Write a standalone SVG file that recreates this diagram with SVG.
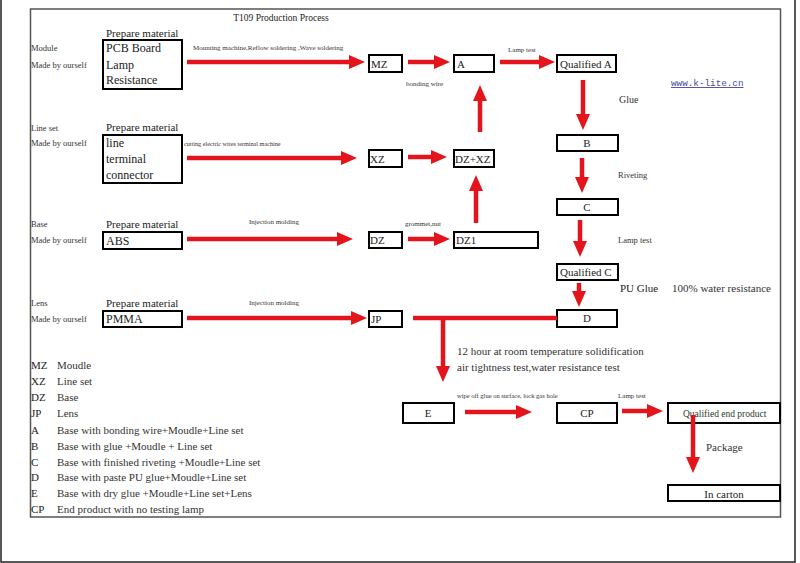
<svg xmlns="http://www.w3.org/2000/svg" width="800" height="563" viewBox="0 0 800 563">
<defs>
<marker id="ah" markerUnits="userSpaceOnUse" markerWidth="16" markerHeight="14" viewBox="0 0 16 14" refX="0" refY="7" orient="auto">
<path d="M0,0 L16,7 L0,14 z" fill="#e3141b"/>
</marker>
</defs>
<style>
text{font-family:"Liberation Serif","Times New Roman",serif;fill:#222}
.box{fill:#fff;stroke:#000;stroke-width:2}
.t{font-size:11px}
.tb{font-size:12px}
.s{font-size:8.5px;fill:#333}
.xs{font-size:7px;fill:#333}
.lg{font-size:11px;fill:#333}
.mid{text-anchor:middle}
.ar{stroke:#e3141b;stroke-width:4.5;fill:none;marker-end:url(#ah)}
.ln{stroke:#e3141b;stroke-width:4.5;fill:none}
</style>
<rect width="800" height="563" fill="#fff"/>
<path d="M1,0 V562 H795 V0" fill="none" stroke="#222" stroke-width="1.5"/>
<rect x="30.5" y="9" width="750" height="508" fill="none" stroke="#555" stroke-width="1.5"/>
<text x="281" y="21" class="mid" style="font-size:9.5px">T109 Production Process</text>

<g id="module">
<text x="31" y="51" class="s">Module</text>
<text x="31" y="68" class="s">Made by ourself</text>
<text x="106" y="37" class="t">Prepare material</text>
<rect x="103" y="40" width="79" height="49" class="box"/>
<text x="106" y="52" class="tb">PCB Board</text>
<text x="106" y="69" class="tb">Lamp</text>
<text x="106" y="84" class="tb">Resistance</text>
</g>
<g id="lineset">
<text x="31" y="131" class="s">Line set</text>
<text x="31" y="146" class="s">Made by ourself</text>
<text x="106" y="131" class="t">Prepare material</text>
<rect x="103" y="135" width="79" height="48" class="box"/>
<text x="106" y="147" class="tb">line</text>
<text x="106" y="163" class="tb">terminal</text>
<text x="106" y="179" class="tb">connector</text>
</g>
<g id="base">
<text x="31" y="227" class="s">Base</text>
<text x="31" y="243" class="s">Made by ourself</text>
<text x="106" y="228" class="t">Prepare material</text>
<rect x="103" y="232" width="79" height="17" class="box"/>
<text x="106" y="245" class="tb">ABS</text>
</g>
<g id="lens">
<text x="31" y="306" class="s">Lens</text>
<text x="31" y="322" class="s">Made by ourself</text>
<text x="106" y="307" class="t">Prepare material</text>
<rect x="103" y="311" width="79" height="16" class="box"/>
<text x="106" y="323" class="tb">PMMA</text>
</g>

<g id="mz"><rect x="369" y="55" width="33" height="17" class="box"/><text x="371" y="68" class="t">MZ</text></g>
<g id="a"><rect x="454" y="55" width="40" height="17" class="box"/><text x="457" y="68" class="t">A</text></g>
<g id="qa"><rect x="557" y="55" width="59" height="17" class="box"/><text x="560" y="68" class="t">Qualified A</text></g>
<g id="xz"><rect x="369" y="150" width="33" height="17" class="box"/><text x="370" y="163" class="t">XZ</text></g>
<g id="dzxz"><rect x="454" y="150" width="40" height="17" class="box"/><text x="455" y="163" class="t">DZ+XZ</text></g>
<g id="b"><rect x="557" y="135" width="61" height="16" class="box"/><text x="587" y="147" class="t mid">B</text></g>
<g id="c"><rect x="557" y="199" width="61" height="16" class="box"/><text x="587" y="211" class="t mid">C</text></g>
<g id="dz"><rect x="369" y="232" width="33" height="16" class="box"/><text x="370" y="244" class="t">DZ</text></g>
<g id="dz1"><rect x="454" y="232" width="84" height="16" class="box"/><text x="456" y="244" class="t">DZ1</text></g>
<g id="qc"><rect x="557" y="264" width="61" height="16" class="box"/><text x="560" y="276" class="t">Qualified C</text></g>
<g id="jp"><rect x="369" y="311" width="33" height="16" class="box"/><text x="371" y="323" class="t">JP</text></g>
<g id="d"><rect x="557" y="310" width="60" height="17" class="box"/><text x="587" y="322" class="t mid">D</text></g>
<g id="e"><rect x="403" y="403" width="51" height="20" class="box"/><text x="428" y="417" class="t mid">E</text></g>
<g id="cp"><rect x="557" y="403" width="60" height="20" class="box"/><text x="587" y="417" class="t mid">CP</text></g>
<g id="qep"><rect x="668" y="403" width="112" height="20" class="box"/><text x="683" y="417" style="font-size:9.5px;fill:#2a3a2a">Qualified  end product</text></g>
<g id="carton"><rect x="668" y="485" width="112" height="16" class="box"/><text x="724" y="498" class="t mid">In carton</text></g>

<g id="labels">
<text x="193" y="50" class="xs">Mounting machine,Reflow soldering ,Wave soldering</text>
<text x="406" y="86" class="xs">bonding wire</text>
<text x="508" y="52" class="xs">Lamp test</text>
<text x="671" y="86" style="font-family:'Liberation Mono',monospace;font-size:9.3px;fill:#4a4aa0;text-decoration:underline">www.k-lite.cn</text>
<text x="619" y="103" style="font-size:10px;fill:#333">Glue</text>
<text x="184" y="146" style="font-size:6.2px;fill:#333">cutting electric wires terminal machine</text>
<text x="618" y="178" class="s">Riveting</text>
<text x="405" y="226" class="xs">grommet,nut</text>
<text x="249" y="224" class="xs">Injection molding</text>
<text x="618" y="243" class="s">Lamp test</text>
<text x="620" y="292" class="t">PU Glue</text>
<text x="672" y="292" class="t" style="fill:#333">100% water resistance</text>
<text x="249" y="305" class="xs">Injection molding</text>
<text x="457" y="355" class="t" style="fill:#333">12 hour at room temperature solidification</text>
<text x="457" y="371" class="t" style="fill:#333">air tightness test,water resistance test</text>
<text x="457" y="398" style="font-size:6.5px;fill:#333">wipe off glue on surface, lock gas hole</text>
<text x="618" y="398" class="xs">Lamp test</text>
<text x="706" y="451" class="t" style="fill:#333">Package</text>
</g>

<g id="legend">
<text x="31" y="369" class="t">MZ</text><text x="57" y="369" class="lg">Moudle</text>
<text x="31" y="385" class="t">XZ</text><text x="57" y="385" class="lg">Line set</text>
<text x="31" y="401" class="t">DZ</text><text x="57" y="401" class="lg">Base</text>
<text x="31" y="417" class="t">JP</text><text x="57" y="417" class="lg">Lens</text>
<text x="31" y="434" class="t">A</text><text x="57" y="434" class="lg">Base with bonding wire+Moudle+Line set</text>
<text x="31" y="450" class="t">B</text><text x="57" y="450" class="lg">Base with glue +Moudle + Line set</text>
<text x="31" y="466" class="t">C</text><text x="57" y="466" class="lg">Base with finished riveting +Moudle+Line set</text>
<text x="31" y="481" class="t">D</text><text x="57" y="481" class="lg">Base with paste PU glue+Moudle+Line set</text>
<text x="31" y="497" class="t">E</text><text x="57" y="497" class="lg">Base with dry glue +Moudle+Line set+Lens</text>
<text x="31" y="513" class="t">CP</text><text x="57" y="513" class="lg">End product with no testing lamp</text>
</g>

<g id="connectors">
<path class="ar" d="M187,62 H349"/>
<path class="ar" d="M408,62 H434"/>
<path class="ar" d="M500,62 H539"/>
<path class="ar" d="M583,80 V114"/>
<path class="ar" d="M187,158 H341"/>
<path class="ar" d="M408,157 H431"/>
<path class="ar" d="M476,223 V191"/>
<path class="ar" d="M480,132 V101"/>
<path class="ar" d="M582,158 V177"/>
<path class="ar" d="M187,239 H337"/>
<path class="ar" d="M408,239 H434"/>
<path class="ar" d="M580,220 V241"/>
<path class="ar" d="M579,283 V291"/>
<path class="ar" d="M187,318 H351"/>
<path class="ln" d="M413,318 H557"/>
<path class="ar" d="M443,318 V366"/>
<path class="ar" d="M465,412 H516"/>
<path class="ar" d="M622,411 H647"/>
<path class="ar" d="M693,415 V457"/>
</g>
</svg>
